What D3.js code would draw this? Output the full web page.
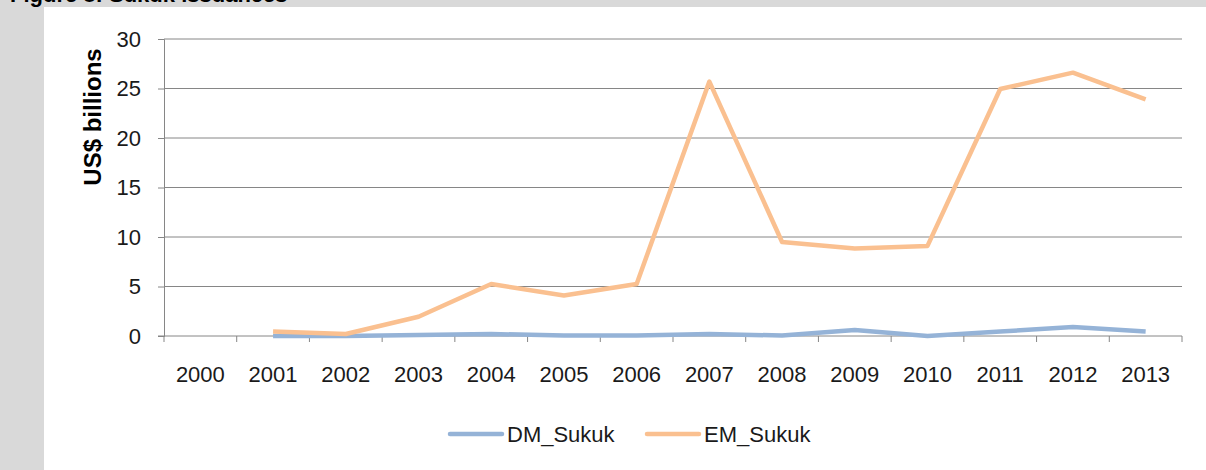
<!DOCTYPE html>
<html>
<head>
<meta charset="utf-8">
<script src="https://cdn.jsdelivr.net/npm/d3@7"></script>
<style>
  body { margin: 0; background: #fff; }
  svg { display: block; }
</style>
</head>
<body>
<script>
// chart data
const years = ["2000", "2001", "2002", "2003", "2004", "2005", "2006", "2007",
  "2008", "2009", "2010", "2011", "2012", "2013"];
// null = no value for that year
const dmSukuk = [null, 0.0, 0.0, 0.1, 0.2, 0.05, 0.05, 0.2, 0.05, 0.6, 0.0, 0.45, 0.9, 0.45];
const emSukuk = [null, 0.45, 0.2, 1.95, 5.25, 4.1, 5.25, 25.7, 9.5, 8.85, 9.1, 24.95, 26.6, 23.9];
const yTicks = [0, 5, 10, 15, 20, 25, 30];

const series = [
  { name: "DM_Sukuk", values: dmSukuk, color: "#95b3d7" },
  { name: "EM_Sukuk", values: emSukuk, color: "#fac090" },
];

const W = 1206, H = 470;
const margin = { left: 164, right: 24, top: 39, bottom: 134 };
const width = W - margin.left - margin.right,
  height = H - margin.top - margin.bottom;
const font = "'Liberation Sans', Arial, sans-serif";

const svgRoot = d3.select("body").append("svg").attr("width", W).attr("height", H);

// grey frame round the white panel
svgRoot.append("rect").attr("width", W).attr("height", H).attr("fill", "#d9d9d9");
svgRoot.append("rect").attr("x", 44).attr("y", 7).attr("width", W - 44).attr("height", H - 7).attr("fill", "#fff");

// figure caption (only its lower edge shows, as in the source)
svgRoot.append("text")
  .attr("x", 10).attr("y", 2)
  .attr("font-family", font).attr("font-weight", "bold").attr("font-size", "22px")
  .attr("fill", "#000")
  .text("Figure 8: Sukuk issuances");

const svg = svgRoot.append("g").attr("transform", `translate(${margin.left},${margin.top})`);

// scales
const xScale = d3.scaleBand().domain(years).range([0, width]);
const yScale = d3.scaleLinear().domain([0, 30]).range([height, 0]);

// gridlines
svg.append("g")
  .selectAll("line")
  .data(yTicks.filter((d) => d > 0))
  .enter()
  .append("line")
  .attr("x1", 0).attr("x2", width)
  .attr("y1", (d) => yScale(d)).attr("y2", (d) => yScale(d))
  .attr("stroke", "#868686").attr("stroke-width", 1);

// y axis
const yAxis = d3.axisLeft(yScale).tickValues(yTicks).tickSize(6).tickPadding(17);
const gY = svg.append("g").call(yAxis);
gY.select(".domain").attr("stroke", "#868686");
gY.selectAll(".tick line").attr("stroke", "#868686");
gY.selectAll(".tick text")
  .attr("font-family", font).attr("font-size", "22px").attr("fill", "#1a1a1a");

// x axis, ticks on category boundaries
const gX = svg.append("g").attr("transform", `translate(0,${height})`);
gX.append("line").attr("x1", -6).attr("x2", width).attr("stroke", "#868686");
const bounds = years.map((d) => xScale(d)).concat([width]);
gX.selectAll(".bt")
  .data(bounds)
  .enter()
  .append("line")
  .attr("class", "bt")
  .attr("x1", (d) => d).attr("x2", (d) => d)
  .attr("y1", 0).attr("y2", 6)
  .attr("stroke", "#868686");
gX.selectAll(".lbl")
  .data(years)
  .enter()
  .append("text")
  .attr("class", "lbl")
  .attr("x", (d) => xScale(d) + xScale.bandwidth() / 2)
  .attr("y", 46)
  .attr("text-anchor", "middle")
  .attr("font-family", font).attr("font-size", "22px").attr("fill", "#1a1a1a")
  .text((d) => d);

// y axis title
svg.append("text")
  .attr("transform", "rotate(-90)")
  .attr("x", -78)
  .attr("y", -63)
  .attr("text-anchor", "middle")
  .attr("font-family", font).attr("font-weight", "bold").attr("font-size", "24px")
  .attr("fill", "#000")
  .text("US$ billions");

// lines
const line = d3.line()
  .defined((d) => d.v !== null)
  .x((d) => xScale(d.year) + xScale.bandwidth() / 2)
  .y((d) => yScale(d.v));

series.forEach((s) => {
  svg.append("path")
    .datum(years.map((y, i) => ({ year: y, v: s.values[i] })))
    .attr("fill", "none")
    .attr("stroke", s.color)
    .attr("stroke-width", 4.5)
    .attr("stroke-linejoin", "round")
    .attr("d", line);
});

// legend
const legend = svgRoot.append("g").attr("transform", "translate(450,434)");
const legendX = [0, 197];
series.forEach((s, i) => {
  const g = legend.append("g").attr("transform", `translate(${legendX[i]},0)`);
  g.append("line")
    .attr("x1", 0).attr("x2", 52)
    .attr("stroke", s.color).attr("stroke-width", 4.5).attr("stroke-linecap", "round");
  g.append("text")
    .attr("x", 57).attr("y", 8)
    .attr("font-family", font).attr("font-size", "22px").attr("fill", "#1a1a1a")
    .text(s.name);
});
</script>
</body>
</html>
